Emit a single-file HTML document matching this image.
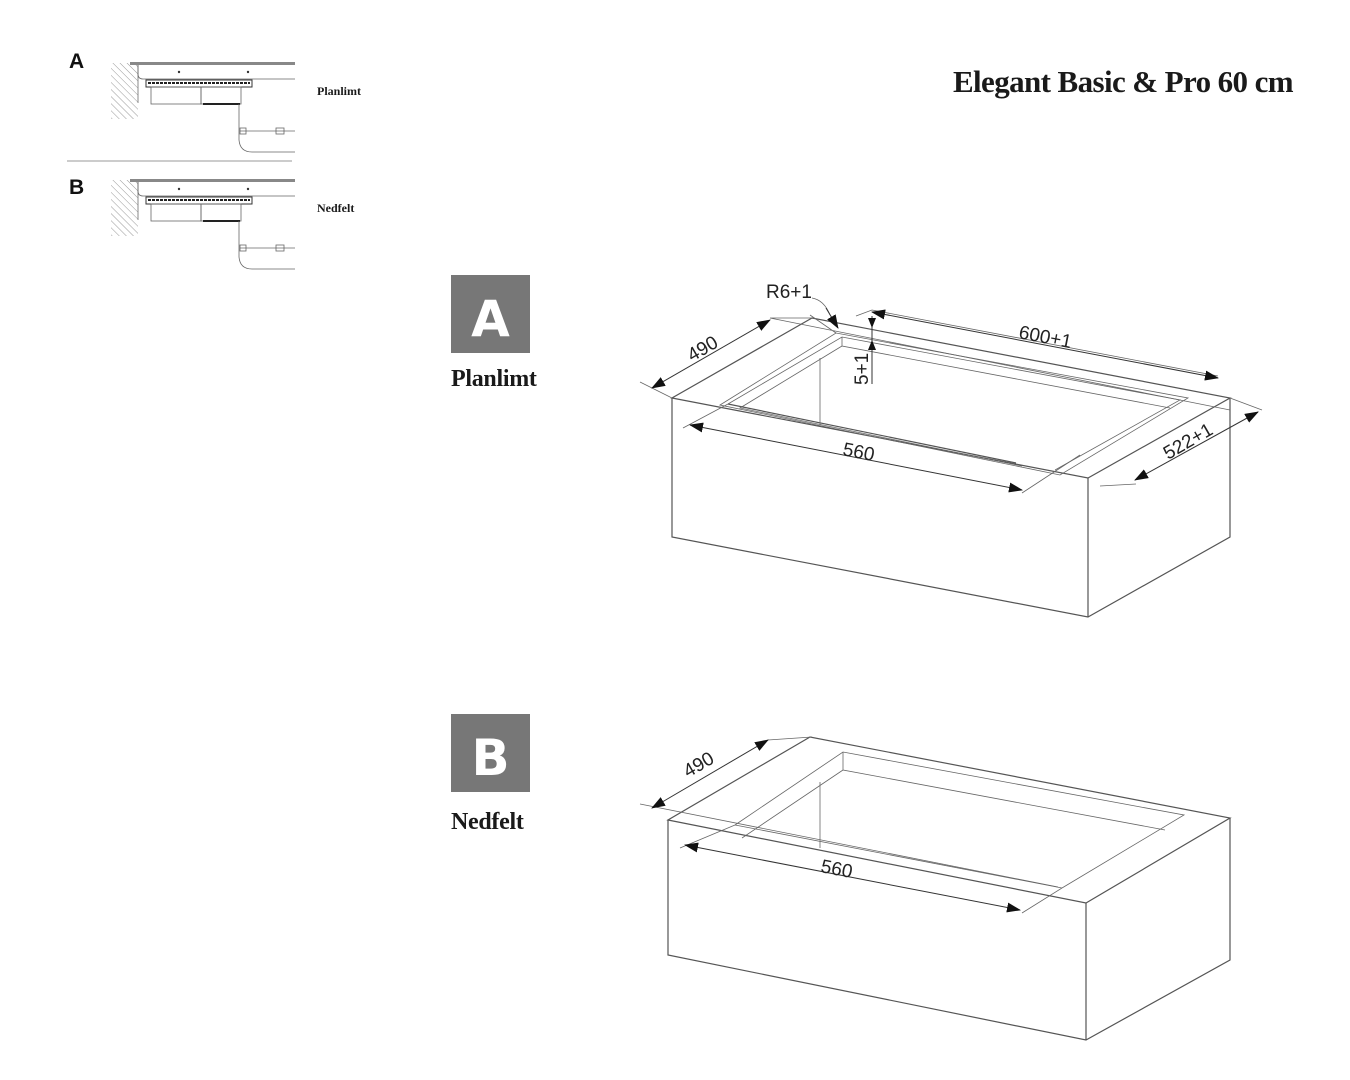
<!DOCTYPE html>
<html><head><meta charset="utf-8"><style>
html,body{margin:0;padding:0;background:#fff;width:1350px;height:1080px;overflow:hidden}
svg{display:block}
.l{stroke:#555;stroke-width:1.2;fill:none}
.t{stroke:#666;stroke-width:0.8;fill:none}
.d{stroke:#333;stroke-width:1;fill:none}
.dim{font-family:"Liberation Sans",sans-serif;font-size:19px;fill:#222}
.ser{font-family:"Liberation Serif",serif;font-weight:bold;fill:#1a1a1a}
</style></head><body>
<svg width="1350" height="1080" viewBox="0 0 1350 1080" xmlns="http://www.w3.org/2000/svg">
<defs>
<marker id="ar" markerWidth="14" markerHeight="10" refX="13" refY="5" orient="auto" markerUnits="userSpaceOnUse">
<path d="M0,0 L14,5 L0,10 z" fill="#111"/></marker>
<marker id="as" markerWidth="14" markerHeight="10" refX="1" refY="5" orient="auto" markerUnits="userSpaceOnUse">
<path d="M14,0 L0,5 L14,10 z" fill="#111"/></marker>
<pattern id="hatch" width="5" height="5" patternUnits="userSpaceOnUse" patternTransform="rotate(-45)">
<line x1="0" y1="0" x2="0" y2="5" stroke="#999" stroke-width="1"/></pattern>
</defs>

<text x="1293" y="92" text-anchor="end" class="ser" font-size="31" letter-spacing="-0.6">Elegant Basic &amp; Pro 60 cm</text>

<g>
<text x="69" y="68" font-family="Liberation Sans,sans-serif" font-weight="bold" font-size="21" fill="#111">A</text>
<text x="69" y="194" font-family="Liberation Sans,sans-serif" font-weight="bold" font-size="21" fill="#111">B</text>
<text x="317" y="95" class="ser" font-size="12">Planlimt</text>
<text x="317" y="212" class="ser" font-size="12">Nedfelt</text>
<line x1="67" y1="161" x2="292" y2="161" stroke="#999" stroke-width="1"/>
<g id="th">
<rect x="111" y="63" width="27" height="56" fill="url(#hatch)"/>
<line x1="138" y1="63" x2="138" y2="103" stroke="#888"/>
<rect x="130" y="62" width="165" height="3" fill="#888"/>
<path d="M138,65 L138,74 Q138,79 143,79 L295,79" class="t"/>
<circle cx="179" cy="72" r="1.2" fill="#333"/><circle cx="248" cy="72" r="1.2" fill="#333"/>
<rect x="146" y="80" width="106" height="7" fill="none" stroke="#333" stroke-width="1"/>
<line x1="148" y1="83" x2="250" y2="83" stroke="#222" stroke-width="2" stroke-dasharray="3,1"/>
<rect x="151" y="87" width="50" height="17" class="t"/>
<rect x="201" y="87" width="40" height="17" class="t"/>
<line x1="203" y1="104" x2="240" y2="104" stroke="#222" stroke-width="2"/>
<path d="M239,104 L239,140 Q240,152 252,152 L295,152" class="t"/>
<line x1="240" y1="131" x2="295" y2="131" class="t"/>
<rect x="240" y="128" width="6" height="6" class="t"/><rect x="276" y="128" width="8" height="6" class="t"/>
</g>
<use href="#th" transform="translate(0,117)"/>
</g>

<rect x="451" y="275" width="79" height="78" fill="#777"/>
<text x="490.5" y="336" text-anchor="middle" font-family="DejaVu Sans,sans-serif" font-weight="bold" font-size="50" fill="#fff">A</text>
<text x="451" y="386" class="ser" font-size="24" letter-spacing="-0.3">Planlimt</text>
<rect x="451" y="714" width="79" height="78" fill="#777"/>
<text x="490.5" y="775" text-anchor="middle" font-family="DejaVu Sans,sans-serif" font-weight="bold" font-size="50" fill="#fff">B</text>
<text x="451" y="829" class="ser" font-size="24" letter-spacing="-0.3">Nedfelt</text>

<g>
<path class="l" d="M672,398 L1088,478 L1230,398 L812,318 Z"/>
<path class="l" d="M672,398 L672,537 L1088,617 L1230,537 L1230,398 M1088,478 L1088,617"/>
<path class="t" d="M720,405 L836,333 L1188,398 L1060,475 Z"/>
<path class="t" d="M728,404 L842,337 L1180,400 L1055,470"/>
<path class="t" d="M842,337 L842,346 L1170,408"/>
<path class="t" d="M842,346 L740,408 L1022,466"/>
<path class="l" d="M728,404 L1016,463"/>
<line class="t" x1="820" y1="358" x2="820" y2="425"/>
<path class="t" d="M640,382 L672,398 M770,318 L812,318 M770,318 L1230,410 M856,316 L872,310 L1218,376 M1230,398 L1262,410 M1100,486 L1136,484 M683,428 L728,404 M1022,493 L1080,455 M810,315 L836,333"/>
<line class="d" x1="652" y1="388" x2="770" y2="320" marker-start="url(#as)" marker-end="url(#ar)"/>
<line class="d" x1="872" y1="312" x2="1218" y2="378" marker-start="url(#as)" marker-end="url(#ar)"/>
<line class="d" x1="690" y1="425" x2="1022" y2="490" marker-start="url(#as)" marker-end="url(#ar)"/>
<line class="d" x1="1135" y1="480" x2="1258" y2="412" marker-start="url(#as)" marker-end="url(#ar)"/>
<line class="d" x1="872" y1="316" x2="872" y2="384"/>
<path d="M868,318 L872,328 L876,318 z M868,350 L872,340 L876,350 z" fill="#111"/>
<path class="t" d="M812,298 Q824,300 830,315"/>
<line class="d" x1="826" y1="308" x2="838" y2="328" marker-end="url(#ar)"/>
<text class="dim" x="766" y="298">R6+1</text>
<text class="dim" transform="translate(1018,338) rotate(11)">600+1</text>
<text class="dim" transform="translate(692,362) rotate(-30)">490</text>
<text class="dim" transform="translate(842,455) rotate(11)">560</text>
<text class="dim" transform="translate(1168,460) rotate(-30)">522+1</text>
<text class="dim" transform="translate(868,385) rotate(-90)">5+1</text>
</g>

<g>
<path class="l" d="M668,820 L1086,903 L1230,818 L810,737 Z"/>
<path class="l" d="M668,820 L668,955 L1086,1040 L1230,960 L1230,818 M1086,903 L1086,1040"/>
<path class="t" d="M735,825 L843,752 L1184,815 L1062,888"/>
<path class="t" d="M843,752 L843,770 L1165,830 M843,770 L742,838 M735,825 L1062,888"/>
<line class="t" x1="820" y1="782" x2="820" y2="848"/>
<path class="t" d="M640,804 L1058,887 M768,740 L812,737 M680,848 L735,825 M1022,913 L1062,888"/>
<line class="d" x1="652" y1="808" x2="768" y2="740" marker-start="url(#as)" marker-end="url(#ar)"/>
<line class="d" x1="685" y1="845" x2="1020" y2="910" marker-start="url(#as)" marker-end="url(#ar)"/>
<text class="dim" transform="translate(688,778) rotate(-30)">490</text>
<text class="dim" transform="translate(820,872) rotate(11)">560</text>
</g>
</svg>
</body></html>
